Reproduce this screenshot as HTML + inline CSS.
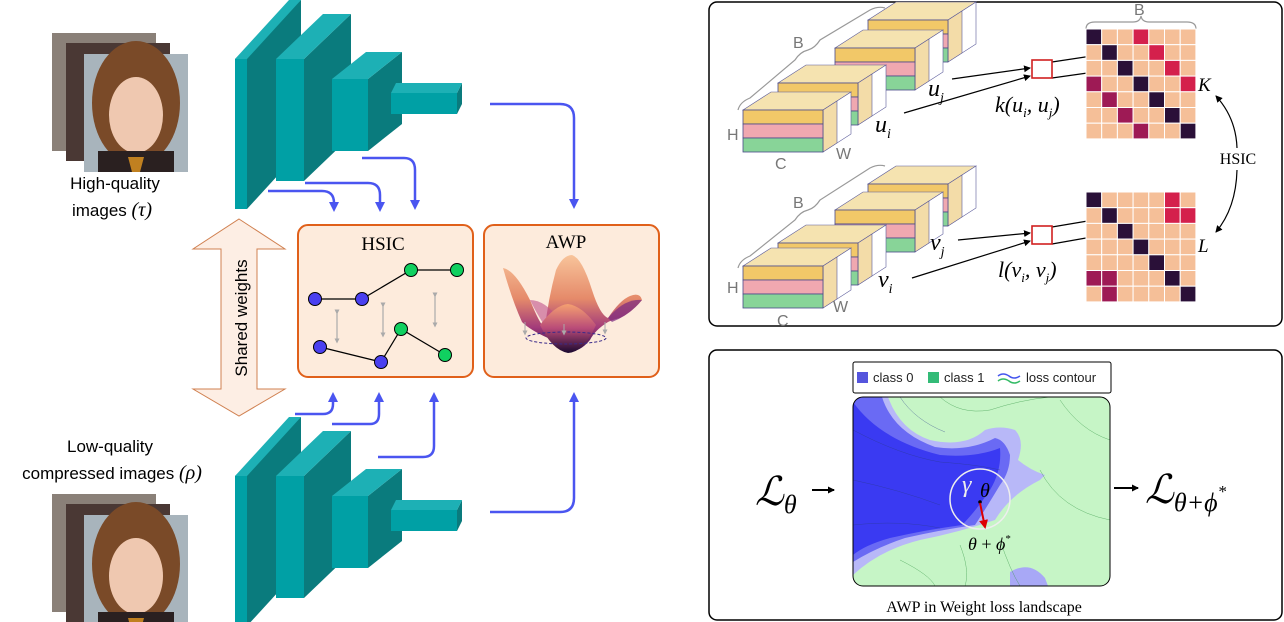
<!DOCTYPE html>
<html><head><meta charset="utf-8"><style>
html,body{margin:0;padding:0;background:#fff;}
svg{display:block;}
.sans{font-family:"Liberation Sans",sans-serif;}
.serif{font-family:"Liberation Serif",serif;}
</style></head><body>
<svg width="1284" height="622" viewBox="0 0 1284 622" xmlns="http://www.w3.org/2000/svg">
<defs>
<linearGradient id="awp" x1="0" y1="0" x2="0" y2="1"><stop offset="0" stop-color="#f8c49a"/><stop offset="0.45" stop-color="#e58a6a"/><stop offset="0.75" stop-color="#a23a7a"/><stop offset="1" stop-color="#2a0c4a"/></linearGradient>
<linearGradient id="awp2" x1="0" y1="0" x2="0" y2="1"><stop offset="0" stop-color="#f5a070"/><stop offset="0.5" stop-color="#b84a78"/><stop offset="1" stop-color="#1a0830"/></linearGradient>
<marker id="ab" markerWidth="10" markerHeight="10" refX="5" refY="5" orient="auto" markerUnits="userSpaceOnUse"><path d="M0,0 L10,5 L0,10 z" fill="#4a55f0"/></marker>
<marker id="ak" markerWidth="7" markerHeight="7" refX="6" refY="3.5" orient="auto" markerUnits="userSpaceOnUse"><path d="M0,0 L7,3.5 L0,7 z" fill="#000"/></marker>
<marker id="ag" markerWidth="5" markerHeight="5" refX="2.5" refY="2.5" orient="auto" markerUnits="userSpaceOnUse"><path d="M0,0 L5,2.5 L0,5 z" fill="#aaa"/></marker>
<marker id="ar" markerWidth="9" markerHeight="9" refX="7" refY="4.5" orient="auto" markerUnits="userSpaceOnUse"><path d="M0,0 L9,4.5 L0,9 z" fill="#d00"/></marker>
<g id="face">
 <rect x="0" y="0" width="104" height="118" fill="#8a8078"/>
 <rect x="14" y="10" width="104" height="118" fill="#4a3834"/>
 <rect x="32" y="21" width="104" height="118" fill="#a8b4bc"/>
 <ellipse cx="84" cy="70" rx="44" ry="62" fill="#7a4a28"/>
 <ellipse cx="84" cy="82" rx="27" ry="38" fill="#efc8b0"/>
 <rect x="46" y="118" width="76" height="21" fill="#2a2020"/>
 <path d="M76,124 L92,124 L88,139 L80,139z" fill="#c08020"/>
</g>
<g id="enc">
 <path d="M235,59 L301,0 L301,150 L247,209 L235,209z" fill="#0a7b7d"/>
 <path d="M235,59 L247,59 L301,0 L289,0z" fill="#1db0b5"/>
 <rect x="235" y="59" width="12" height="150" fill="#00a0a5"/>
 <path d="M304,59 L351,14 L351,136 L304,181z" fill="#0a7b7d"/>
 <path d="M276,59 L304,59 L351,14 L323,14z" fill="#1db0b5"/>
 <rect x="276" y="59" width="28" height="122" fill="#00a0a5"/>
 <path d="M368,79 L402,52 L402,124 L368,151z" fill="#0a7b7d"/>
 <path d="M332,79 L368,79 L402,52 L366,52z" fill="#1db0b5"/>
 <rect x="332" y="79" width="36" height="72" fill="#00a0a5"/>
 <path d="M457,93 L462,83 L462,104 L457,114z" fill="#0a7b7d"/>
 <path d="M391,93 L457,93 L462,83 L396,83z" fill="#1db0b5"/>
 <rect x="391" y="93" width="66" height="21" fill="#00a0a5"/>
</g>
<g id="blk">
 <path d="M0,0 L28,-18 L108,-18 L80,0z" fill="#f5e3b0" stroke="#5a5a9a" stroke-width="0.6"/>
 <path d="M80,0 L108,-18 L108,24 L80,42z" fill="#fff" stroke="#5a5a9a" stroke-width="0.6"/>
 <path d="M80,0 L94,-9 L94,33 L80,42z" fill="#f3dca8" stroke="#5a5a9a" stroke-width="0.6"/>
 <rect x="0" y="0" width="80" height="14" fill="#f2c868" stroke="#4a4a8a" stroke-width="0.8"/>
 <rect x="0" y="14" width="80" height="14" fill="#f0a8b0" stroke="#4a4a8a" stroke-width="0.8"/>
 <rect x="0" y="28" width="80" height="14" fill="#88d498" stroke="#4a4a8a" stroke-width="0.8"/>
</g>
</defs>

<use href="#face" x="52" y="33"/>
<use href="#face" x="52" y="494"/>
<text x="115" y="189" class="sans" font-size="17" text-anchor="middle">High-quality</text>
<text x="112" y="216" class="sans" font-size="17" text-anchor="middle">images <tspan font-style="italic" class="serif" font-size="20">(τ)</tspan></text>
<text x="110" y="452" class="sans" font-size="17" text-anchor="middle">Low-quality</text>
<text x="112" y="479" class="sans" font-size="17" text-anchor="middle">compressed images <tspan font-style="italic" class="serif" font-size="20">(ρ)</tspan></text>

<use href="#enc"/>
<use href="#enc" y="417"/>

<g fill="none" stroke="#4a55f0" stroke-width="2.5">
<path d="M268,191 L322,191 Q334,191 334,203 L334,207" marker-end="url(#ab)"/>
<path d="M305,183 L368,183 Q380,183 380,195 L380,207" marker-end="url(#ab)"/>
<path d="M362,158 L404,158 Q415,158 415,170 L415,205" marker-end="url(#ab)"/>
<path d="M490,104 L560,104 Q574,104 574,118 L574,204" marker-end="url(#ab)"/>
<path d="M295,414 L323,414 Q333,414 333,404 L333,397" marker-end="url(#ab)"/>
<path d="M332,424 L370,424 Q379,424 379,414 L379,397" marker-end="url(#ab)"/>
<path d="M378,457 L423,457 Q434,457 434,446 L434,397" marker-end="url(#ab)"/>
<path d="M490,512 L560,512 Q574,512 574,498 L574,397" marker-end="url(#ab)"/>
</g>

<path d="M239,219 L285,249 L257,249 L257,389 L285,389 L239,416 L193,389 L221,389 L221,249 L193,249z" fill="#fdeee4" stroke="#d08050" stroke-width="1"/>
<text transform="translate(247,318) rotate(-90)" class="sans" font-size="17" text-anchor="middle">Shared weights</text>

<rect x="298" y="225" width="175" height="152" rx="10" fill="#fdebdc" stroke="#e0601a" stroke-width="2"/>
<text x="383" y="250" class="serif" font-size="19" text-anchor="middle">HSIC</text>
<g stroke="#aaa" stroke-width="1.2">
<line x1="337" y1="312" x2="337" y2="341" marker-end="url(#ag)" marker-start="url(#ag)"/>
<line x1="383" y1="305" x2="383" y2="335" marker-end="url(#ag)" marker-start="url(#ag)"/>
<line x1="435" y1="295" x2="435" y2="325" marker-end="url(#ag)" marker-start="url(#ag)"/>
</g>
<g stroke="#000" stroke-width="1.2">
<polyline points="315,299 362,299 411,270 457,270" fill="none"/>
<polyline points="320,347 381,362 401,329 445,355" fill="none"/>
</g>
<g stroke="#000" stroke-width="1">
<circle cx="315" cy="299" r="6.5" fill="#4a40f0"/><circle cx="362" cy="299" r="6.5" fill="#4a40f0"/>
<circle cx="411" cy="270" r="6.5" fill="#10d060"/><circle cx="457" cy="270" r="6.5" fill="#10d060"/>
<circle cx="320" cy="347" r="6.5" fill="#4a40f0"/><circle cx="381" cy="362" r="6.5" fill="#4a40f0"/>
<circle cx="401" cy="329" r="6.5" fill="#10d060"/><circle cx="445" cy="355" r="6.5" fill="#10d060"/>
</g>

<rect x="484" y="225" width="175" height="152" rx="10" fill="#fdebdc" stroke="#e0601a" stroke-width="2"/>
<text x="566" y="248" class="serif" font-size="19" text-anchor="middle">AWP</text>
<path d="M503,268 Q515,270 530,300 Q540,325 545,328 Q548,300 556,270 Q563,255 572,255 Q582,258 592,290 Q600,315 608,318 Q620,300 630,296 Q640,292 642,300 Q632,312 620,318 Q612,320 608,322 Q595,330 590,340 Q580,352 568,352 Q556,350 548,338 Q530,330 522,322 Q512,300 503,268z" fill="url(#awp)"/>
<path d="M530,300 Q540,320 548,330 L560,320 Q545,300 530,300z" fill="#c0508a" opacity="0.6"/>
<path d="M608,318 Q625,298 642,300 Q630,315 612,322z" fill="#7a2a80" opacity="0.7"/>
<path d="M540,325 Q555,305 568,304 Q582,306 596,325 Q584,352 568,353 Q552,350 540,325z" fill="url(#awp2)"/>
<ellipse cx="566" cy="338" rx="40" ry="6" fill="none" stroke="#3a2a8a" stroke-width="1" stroke-dasharray="3,2"/>
<g stroke="#aaa" stroke-width="1"><line x1="525" y1="322" x2="525" y2="333" marker-end="url(#ag)"/><line x1="564" y1="324" x2="564" y2="333" marker-end="url(#ag)"/><line x1="605" y1="322" x2="605" y2="332" marker-end="url(#ag)"/></g>

<rect x="709" y="2" width="573" height="324" rx="8" fill="#fff" stroke="#000" stroke-width="1.5"/>
<g>
<use href="#blk" x="868" y="20"/>
<use href="#blk" x="835" y="48"/>
<use href="#blk" x="778" y="83"/>
<use href="#blk" x="743" y="110"/>
<use href="#blk" x="868" y="184"/>
<use href="#blk" x="835" y="210"/>
<use href="#blk" x="778" y="243"/>
<use href="#blk" x="743" y="266"/>
</g>
<g fill="none" stroke="#999" stroke-width="1.2">
<path d="M738,110 Q740,102 750,98 L795,60 Q800,52 808,50 Q815,48 820,40 L870,10 Q878,6 885,8"/>
<path d="M738,268 Q740,260 750,256 L795,220 Q800,212 808,210 Q815,208 820,200 L870,168 Q878,164 885,166"/>
<path d="M1086,29 Q1086,22 1095,22 L1133,22 Q1140,22 1141,16 Q1142,22 1149,22 L1187,22 Q1196,22 1196,29"/>
</g>
<g class="sans" fill="#777" font-size="16">
<text x="793" y="48">B</text><text x="793" y="208">B</text>
<text x="1134" y="15">B</text>
<text x="727" y="140">H</text><text x="727" y="293">H</text>
<text x="775" y="169">C</text><text x="777" y="326">C</text>
<text x="836" y="159">W</text><text x="833" y="312">W</text>
</g>
<g class="serif" font-style="italic" font-size="24">
<text x="928" y="96">u<tspan font-size="14" dy="6">j</tspan></text>
<text x="875" y="132">u<tspan font-size="14" dy="6">i</tspan></text>
<text x="930" y="250">v<tspan font-size="14" dy="6">j</tspan></text>
<text x="878" y="287">v<tspan font-size="14" dy="6">i</tspan></text>
<text x="995" y="112" font-size="22">k(u<tspan font-size="13" dy="5">i</tspan><tspan dy="-5">, u</tspan><tspan font-size="13" dy="5">j</tspan><tspan dy="-5">)</tspan></text>
<text x="998" y="277" font-size="22">l(v<tspan font-size="13" dy="5">i</tspan><tspan dy="-5">, v</tspan><tspan font-size="13" dy="5">j</tspan><tspan dy="-5">)</tspan></text>
<text x="1198" y="91" font-size="19">K</text>
<text x="1198" y="252" font-size="19">L</text>
</g>
<text x="1238" y="164" class="serif" font-size="16" text-anchor="middle">HSIC</text>
<g stroke="#000" stroke-width="1.2" fill="none">
<line x1="952" y1="79" x2="1030" y2="68" marker-end="url(#ak)"/>
<line x1="904" y1="113" x2="1030" y2="76" marker-end="url(#ak)"/>
<line x1="958" y1="240" x2="1030" y2="233" marker-end="url(#ak)"/>
<line x1="912" y1="278" x2="1030" y2="241" marker-end="url(#ak)"/>
<line x1="1052" y1="62" x2="1165" y2="45"/><line x1="1052" y1="78" x2="1165" y2="62"/>
<line x1="1052" y1="227" x2="1165" y2="208"/><line x1="1052" y1="244" x2="1165" y2="224"/>
<path d="M1237,148 Q1236,118 1216,96" marker-end="url(#ak)"/>
<path d="M1237,170 Q1236,208 1216,232" marker-end="url(#ak)"/>
</g>
<rect x="1032" y="60" width="20" height="18" fill="#fff" stroke="#d02020" stroke-width="1.6"/>
<rect x="1032" y="226" width="20" height="18" fill="#fff" stroke="#d02020" stroke-width="1.6"/>
<g id="mats" stroke="#fff" stroke-width="1"></g>

<rect x="709" y="350" width="573" height="270" rx="8" fill="#fff" stroke="#000" stroke-width="1.5"/>
<rect x="853" y="362" width="258" height="31" rx="2" fill="#fff" stroke="#000" stroke-width="1"/>
<rect x="857" y="372" width="11" height="11" fill="#5555dd"/>
<text x="873" y="382" class="sans" font-size="13" fill="#222">class 0</text>
<rect x="928" y="372" width="11" height="11" fill="#33bb77"/>
<text x="944" y="382" class="sans" font-size="13" fill="#222">class 1</text>
<path d="M998,376 q5,-4 11,0 q5,4 11,0" stroke="#4455ee" stroke-width="1.5" fill="none"/>
<path d="M998,381 q5,-4 11,0 q5,4 11,0" stroke="#33bb66" stroke-width="1.5" fill="none"/>
<text x="1026" y="382" class="sans" font-size="13" fill="#222">loss contour</text>
<clipPath id="lc"><rect x="853" y="397" width="257" height="189" rx="10"/></clipPath>
<g clip-path="url(#lc)">
<rect x="853" y="397" width="257" height="189" fill="#c6f5c6"/>
<path d="M853,397 L888,397 Q900,430 930,440 Q965,448 985,430 Q1000,425 1015,430 Q1025,440 1018,460 Q1030,470 1045,475 L1040,480 Q1010,495 995,520 Q960,532 920,540 Q880,550 853,575z" fill="#b8b8f8"/>
<path d="M853,397 L882,397 Q893,432 935,447 Q968,452 995,438 Q1005,440 1010,455 Q1010,472 1000,485 Q985,510 975,525 Q940,530 905,538 Q875,548 853,562z" fill="#6a6af4"/>
<path d="M853,402 Q880,440 940,455 Q975,458 1000,448 Q1002,470 990,490 Q975,512 962,525 Q925,530 890,538 Q865,545 853,555z" fill="#3a3af2"/>
<path d="M1010,572 Q1030,560 1045,578 L1048,586 L1010,586z" fill="#a8a8f6"/>
<g fill="none" stroke="#2a3a8a" stroke-width="0.5" opacity="0.6">
<path d="M853,430 Q900,455 940,462 Q980,465 1000,470"/><path d="M853,480 Q900,490 940,505"/>
<path d="M853,525 Q900,520 940,528"/><path d="M900,397 Q915,420 945,432"/>
</g>
<g fill="none" stroke="#3a9a4a" stroke-width="0.5" opacity="0.7">
<path d="M940,397 Q960,415 990,410 Q1020,400 1050,397"/><path d="M1040,470 Q1060,510 1110,520"/>
<path d="M1000,540 Q1010,570 1020,586"/><path d="M960,545 Q970,570 965,586"/>
<path d="M1060,400 Q1080,430 1110,440"/><path d="M900,560 Q930,575 935,586"/>
</g>
</g>
<rect x="853" y="397" width="257" height="189" rx="10" fill="none" stroke="#000" stroke-width="1"/>
<circle cx="980" cy="499" r="30" fill="none" stroke="#eee" stroke-width="1.5"/>
<circle cx="980" cy="502" r="1.8" fill="#000"/>
<line x1="980" y1="503" x2="985" y2="527" stroke="#d00" stroke-width="2" marker-end="url(#ar)"/>
<text x="912" y="492" class="serif" font-style="italic" font-size="24" fill="#eee" transform="translate(50,0)">γ</text>
<text x="980" y="497" class="serif" font-style="italic" font-size="20">θ</text>
<text x="968" y="550" class="serif" font-size="18"><tspan font-style="italic">θ</tspan> + <tspan font-style="italic">ϕ</tspan><tspan font-size="11" dy="-8">*</tspan></text>
<text x="984" y="612" class="serif" font-size="16" text-anchor="middle">AWP in Weight loss landscape</text>
<text x="755" y="505" class="serif" font-style="italic" font-size="40">ℒ<tspan font-size="26" dy="8">θ</tspan></text>
<line x1="812" y1="490" x2="834" y2="490" stroke="#000" stroke-width="2" marker-end="url(#ak)"/>
<line x1="1114" y1="488" x2="1138" y2="488" stroke="#000" stroke-width="2" marker-end="url(#ak)"/>
<text x="1145" y="503" class="serif" font-style="italic" font-size="40">ℒ<tspan font-size="26" dy="8">θ+ϕ</tspan><tspan font-size="17" dy="-14">*</tspan></text>
</svg>
<script>
(function(){
var P="#f5bf98",D="#2a1038",C="#d4204c",M="#9e1a55";
var K=["D..C...",".D..C..","..D..C.","M..D..C",".M..D..","..M..D.","...M..D"];
var L=["D....C.",".D...CC","..D....","...D...","....D..","MM...D.",".M....D"];
var map={".":P,D:D,C:C,M:M};
var g=document.getElementById("mats"),ns="http://www.w3.org/2000/svg";
function draw(m,x0,y0){for(var r=0;r<7;r++)for(var c=0;c<7;c++){var e=document.createElementNS(ns,"rect");e.setAttribute("x",x0+c*15.7);e.setAttribute("y",y0+r*15.7);e.setAttribute("width",15.7);e.setAttribute("height",15.7);e.setAttribute("fill",map[m[r][c]]);g.appendChild(e);}}
draw(K,1086,29);draw(L,1086,192);
})();
</script>
</body></html>
